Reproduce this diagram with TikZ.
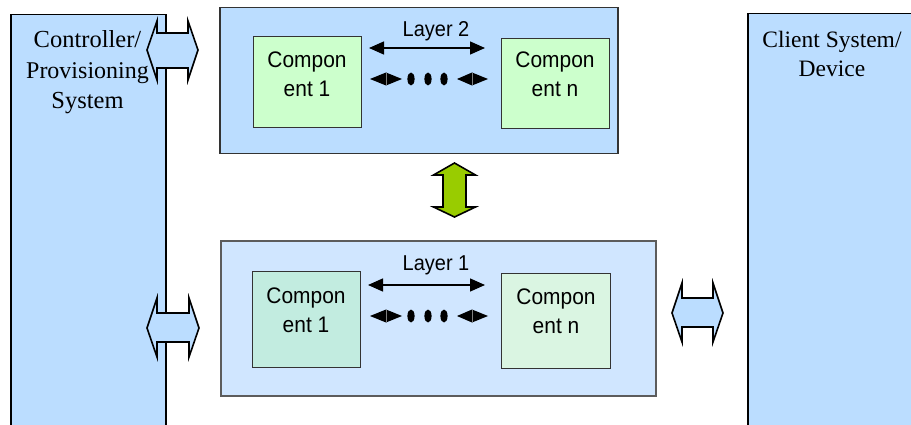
\documentclass[tikz,border=0pt]{standalone}
\usepackage{fontspec}
\usetikzlibrary{arrows.meta}
\newfontfamily\sansf[FakeStretch=0.93]{Liberation Sans}
\newfontfamily\seriff{Liberation Serif}

\definecolor{sysblue}{HTML}{BBDDFF}
\definecolor{layertop}{HTML}{BBDDFF}
\definecolor{layerbot}{HTML}{D0E6FF}
\definecolor{compgreen}{HTML}{CCFFCC}
\definecolor{compteal}{HTML}{C2ECE0}
\definecolor{comppale}{HTML}{DAF5E2}
\definecolor{limegreen}{HTML}{99CC00}
\definecolor{edgegray}{HTML}{333333}

\tikzset{
  sysbox/.style={draw=black, line width=1.5pt, fill=sysblue, anchor=north west, inner sep=0pt},
  layerbox/.style={draw=edgegray, line width=1.5pt, anchor=north west, inner sep=0pt},
  compbox/.style={draw=edgegray, line width=1.4pt, anchor=north west, inner sep=0pt},
  serifText/.style={anchor=base, inner sep=0pt, font=\seriff\fontsize{24.5}{28}\selectfont},
  compText/.style={anchor=base, inner sep=0pt, font=\sansf\fontsize{22.5}{26}\selectfont},
  layerText/.style={anchor=base, inner sep=0pt, font=\sansf\fontsize{21.5}{25}\selectfont},
  blockarrow/.style={draw=black, line width=1.6pt, fill=sysblue, line join=miter},
  linkarrow/.style={line width=1.4pt, {Triangle[length=15pt,width=13pt]}-{Triangle[length=15pt,width=13pt]}},
}

\begin{document}
\begin{tikzpicture}[x=1pt, y=-1pt]
\useasboundingbox (0,0) rectangle (911,425);
\clip (0,0) rectangle (911,425);

% outer systems
\node[sysbox, minimum width=155pt, minimum height=430pt] (ctrl) at (10,14) {};
\node[sysbox, minimum width=175pt, minimum height=430pt] (client) at (747,13) {};

\node[serifText] (ctrlA) at (87.5,48) {Controller/};
\node[serifText, font=\seriff\fontsize{24}{28}\selectfont] (ctrlB) at (87.5,78.5) {Provisioning};
\node[serifText] (ctrlC) at (87.5,109) {System};

\node[serifText, font=\seriff\fontsize{23.5}{28}\selectfont] (clientA) at (832,48) {Client System/};
\node[serifText, font=\seriff\fontsize{23.5}{28}\selectfont] (clientB) at (832,77) {Device};

% layer 2
\node[layerbox, fill=layertop, minimum width=398pt, minimum height=146pt] (layerTwo) at (219,7) {};
\node[compbox, fill=compgreen, minimum width=108pt, minimum height=91pt] (cTwoA) at (253,36) {};
\node[compbox, fill=compgreen, minimum width=108pt, minimum height=90pt] (cTwoN) at (501,38) {};
\node[compText] (tTwoA1) at (307,68) {Compon};
\node[compText] (tTwoA2) at (307,97) {ent 1};
\node[compText] (tTwoN1) at (555,68) {Compon};
\node[compText] (tTwoN2) at (555,97) {ent n};
\node[layerText] (lblTwo) at (436,37) {Layer 2};
\coordinate (aTwoL) at (369,48);
\coordinate (aTwoR) at (485,48);
\draw[linkarrow] (aTwoL) -- (aTwoR);

% layer 1
\node[layerbox, draw=edgegray!80, fill=layerbot, minimum width=435pt, minimum height=155pt] (layerOne) at (220,240) {};
\node[compbox, fill=compteal, minimum width=108pt, minimum height=96pt] (cOneA) at (252,271) {};
\node[compbox, fill=comppale, minimum width=109pt, minimum height=95pt] (cOneN) at (501,273) {};
\node[compText] (tOneA1) at (306,303) {Compon};
\node[compText] (tOneA2) at (306,332) {ent 1};
\node[compText] (tOneN1) at (556,304) {Compon};
\node[compText] (tOneN2) at (556,333) {ent n};
\node[layerText] (lblOne) at (436,270) {Layer 1};
\coordinate (aOneL) at (368,285);
\coordinate (aOneR) at (485,285);
\draw[linkarrow] (aOneL) -- (aOneR);

% dotted chains of interfaces
\foreach \yy in {79,316} {
  \fill (370,\yy) -- (386,\yy-6.5) -- (386,\yy+6.5) -- cycle;
  \fill (402,\yy) -- (386,\yy-6.5) -- (386,\yy+6.5) -- cycle;
  \fill (411,\yy) ellipse [x radius=3.6pt, y radius=6.5pt];
  \fill (428,\yy) ellipse [x radius=3.6pt, y radius=6.5pt];
  \fill (444,\yy) ellipse [x radius=3.6pt, y radius=6.5pt];
  \fill (457,\yy) -- (472,\yy-6.5) -- (472,\yy+6.5) -- cycle;
  \fill (488,\yy) -- (472,\yy-6.5) -- (472,\yy+6.5) -- cycle;
  \draw[gray, line width=0.5pt] (386,\yy-6) -- (386,\yy+6);
  \draw[gray, line width=0.5pt] (472,\yy-6) -- (472,\yy+6);
}

% link between the layers
\draw[blockarrow, fill=limegreen]
  (454.5,163) -- (475.5,175) -- (466,175) -- (466,207) -- (475.5,207)
  -- (454.5,217) -- (433.5,207) -- (443,207) -- (443,175) -- (433.5,175) -- cycle;

% links to the outer systems
\draw[blockarrow]
  (147,50) -- (157,21) -- (157,33) -- (188,33) -- (188,21) -- (198,50)
  -- (188,80) -- (188,68) -- (157,68) -- (157,80) -- cycle;
\draw[blockarrow]
  (147,328) -- (157,298) -- (157,313) -- (189,313) -- (189,298) -- (199,328)
  -- (189,357) -- (189,342) -- (157,342) -- (157,357) -- cycle;
\draw[blockarrow]
  (672,313) -- (682,283) -- (682,298) -- (713,298) -- (713,283) -- (723,313)
  -- (713,342) -- (713,327) -- (682,327) -- (682,342) -- cycle;
\end{tikzpicture}
\end{document}
